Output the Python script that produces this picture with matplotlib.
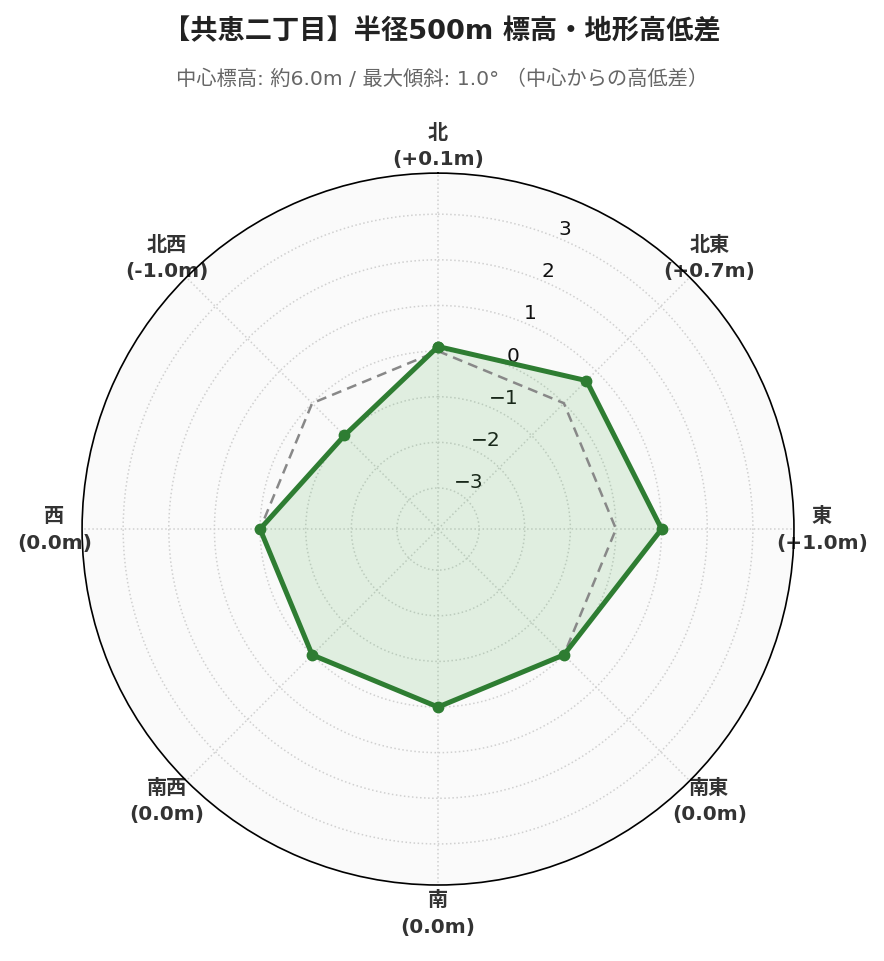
import numpy as np
import matplotlib
matplotlib.use('Agg')
import matplotlib.pyplot as plt

plt.rcParams['font.family'] = ['DejaVu Sans', 'Noto Sans CJK JP']

directions = ['北', '北東', '東', '南東', '南', '南西', '西', '北西']
diffs = [0.1, 0.7, 1.0, 0.0, 0.0, 0.0, 0.0, -1.0]
baseline = [0.0] * 8
rticks = [-3, -2, -1, 0, 1, 2, 3]

title = '【共恵二丁目】半径500m 標高・地形高低差'
subtitle = '中心標高: 約6.0m / 最大傾斜: 1.0° （中心からの高低差）'


def main():
    fig = plt.figure(figsize=(8.84, 9.62), dpi=100)
    ax = fig.add_axes([0.0928, 0.079, 0.8054, 0.740], projection='polar')
    ax.set_theta_zero_location('N')
    ax.set_theta_direction(-1)
    ax.set_facecolor('#fafafa')

    theta = np.deg2rad(np.arange(len(directions)) * 45.0)
    th = np.append(theta, theta[0])
    v = np.append(diffs, diffs[0])
    b = np.append(baseline, baseline[0])

    ax.set_ylim(-3.9, 3.9)
    ax.fill(th, v, color='#4caf50', alpha=0.15, zorder=2)
    ax.plot(th, b, color='#888888', lw=1.8, ls=(0, (4, 2.5)), zorder=3)
    ax.plot(th, v, color='#2e7d32', lw=3.6, marker='o', ms=7.5, zorder=4)

    labels = []
    for d, x in zip(directions, diffs):
        if x > 0:
            labels.append('%s\n(+%.1fm)' % (d, x))
        else:
            labels.append('%s\n(%.1fm)' % (d, x))
    ax.set_xticks(theta)
    ax.set_xticklabels(labels, fontsize=14.5, fontweight='bold', color='#333333',
                       linespacing=1.5)
    ax.tick_params(axis='x', pad=9.5)

    ax.set_yticks(rticks)
    ax.set_yticklabels(['\u2212%d' % -r if r < 0 else '%d' % r for r in rticks],
                       fontsize=14.5, color='#111111')
    ax.set_rlabel_position(22.5)

    ax.grid(True, color='#d0d0d0', ls=':', lw=1.1)
    ax.spines['polar'].set_color('black')
    ax.spines['polar'].set_linewidth(1.2)

    fig.text(0.5, 0.967, title, ha='center', va='center', fontsize=19.6,
             fontweight='bold', color='#222222')
    fig.text(0.5, 0.9175, subtitle, ha='center', va='center', fontsize=14.6,
             color='#666666')

    plt.savefig('out.png', dpi=100)


if __name__ == '__main__':
    main()
